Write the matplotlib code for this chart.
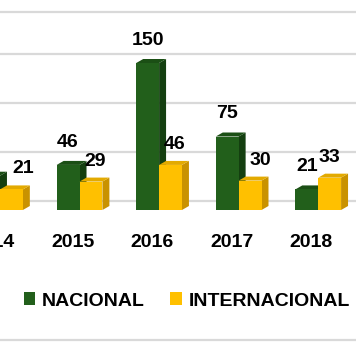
import matplotlib
matplotlib.use("Agg")
import matplotlib.pyplot as plt
from matplotlib.patches import Polygon, Rectangle
from matplotlib.lines import Line2D
from matplotlib.transforms import ScaledTranslation

years = ["2014", "2015", "2016", "2017", "2018"]
nacional = [35, 46, 150, 75, 21]
internacional = [21, 29, 46, 30, 33]
series_names = ["NACIONAL", "INTERNACIONAL"]
grid_values = [0, 50, 100, 150]

plt.rcParams['font.family'] = ['Liberation Sans', 'DejaVu Sans']

W, H = 356, 364
fig = plt.figure(figsize=(W / 100, H / 100), dpi=100)
fig.patch.set_facecolor('white')

base_px = 210          # pixel row (from top) of value 0
px_per_unit = 0.98
ax = fig.add_axes([0, (H - base_px) / H, 1, base_px / H])
ax.set_xlim(0.025, 4.475)
ax.set_ylim(0, base_px / px_per_unit)
for s in ax.spines.values():
    s.set_visible(False)
ax.set_yticks([])
ax.tick_params(axis='x', length=0, pad=17)

px_x = 80.0  # pixels per category unit
bw = 23 / px_x
ddx = 7 / px_x
ddy = 4 / px_per_unit

green = dict(front='#225F1B', side='#143F10', top='#1B4F15')
yellow = dict(front='#FFC000', side='#C99200', top='#E3AA00')

# back-wall gridlines
grid_off = ScaledTranslation(0, 9 / 100, fig.dpi_scale_trans)
for v in grid_values:
    ln = Line2D([0, 1], [v, v], color='#D9D9D9', lw=1.6, zorder=0,
                transform=ax.get_yaxis_transform() + grid_off)
    ax.add_line(ln)


def bar3d(x0, h, col):
    x1 = x0 + bw
    ax.add_patch(Polygon([(x1, 0), (x1 + ddx, ddy), (x1 + ddx, h + ddy), (x1, h)],
                         closed=True, fc=col['side'], ec='none', zorder=2, clip_on=False))
    ax.add_patch(Polygon([(x0, h), (x1, h), (x1 + ddx, h + ddy), (x0 + ddx, h + ddy)],
                         closed=True, fc=col['top'], ec='none', zorder=2, clip_on=False))
    ax.add_patch(Rectangle((x0, 0), bw, h, fc=col['front'], ec='none', zorder=2, clip_on=False))


lab_dx_int = [12, 4, 4, 10, 0]
fs = 14
for i, (n, t) in enumerate(zip(nacional, internacional)):
    bar3d(i - bw, n, green)
    bar3d(i, t, yellow)
    ax.annotate(str(n), (i - bw / 2, n), xytext=(0, 18), textcoords='offset pixels',
                ha='center', va='baseline', fontsize=fs, fontweight='bold', color='black',
                zorder=5, annotation_clip=False)
    ax.annotate(str(t), (i + bw / 2, t), xytext=(lab_dx_int[i], 16), textcoords='offset pixels',
                ha='center', va='baseline', fontsize=fs, fontweight='bold', color='black',
                zorder=5, annotation_clip=False)

ax.set_xticks(range(len(years)))
ax.set_xticklabels(years, fontsize=fs, fontweight='bold', color='black')
shift = ScaledTranslation(-7 / 100, 0, fig.dpi_scale_trans)
for lbl in ax.get_xticklabels():
    lbl.set_transform(lbl.get_transform() + shift)

# decorative border lines
fig.add_artist(Line2D([0, 1], [1 - 12 / H, 1 - 12 / H], color='#D9D9D9', lw=1.6,
                      transform=fig.transFigure))
fig.add_artist(Line2D([0, 1], [1 - 340 / H, 1 - 340 / H], color='#D9D9D9', lw=1.6,
                      transform=fig.transFigure))

handles = [Rectangle((0, 0), 1, 1, fc=green['front']), Rectangle((0, 0), 1, 1, fc=yellow['front'])]
fig.legend(handles, series_names, loc='center', bbox_to_anchor=(187 / W, 1 - 301 / H),
           ncol=2, frameon=False, prop=dict(size=fs, weight='bold'),
           handlelength=0.6, handleheight=0.6, handletextpad=0.35, columnspacing=1.3)

fig.savefig('out.png', dpi=100, facecolor='white')
